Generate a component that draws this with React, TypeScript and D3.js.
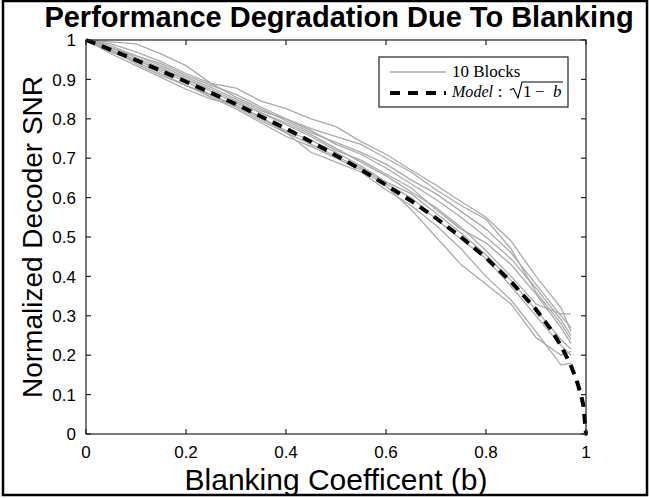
import React from "react";
import * as d3 from "d3";

const W = 650;
const H = 498;

// Block sample positions (blanking coefficient)
const blockB = [0, 0.05, 0.1, 0.15, 0.2, 0.25, 0.3, 0.35, 0.4, 0.45, 0.5, 0.55, 0.6, 0.65, 0.7, 0.75, 0.8, 0.85, 0.9, 0.95, 0.97];

const block1 = [1, 0.995, 0.99, 0.965, 0.935, 0.89, 0.878, 0.845, 0.826, 0.8, 0.78, 0.742, 0.71, 0.67, 0.632, 0.59, 0.55, 0.49, 0.4, 0.32, 0.26];
const block2 = [1, 0.985, 0.96, 0.94, 0.91, 0.885, 0.862, 0.83, 0.8, 0.775, 0.755, 0.735, 0.7, 0.665, 0.62, 0.58, 0.545, 0.47, 0.36, 0.28, 0.24];
const block3 = [1, 0.965, 0.935, 0.905, 0.875, 0.85, 0.835, 0.805, 0.765, 0.715, 0.69, 0.665, 0.62, 0.58, 0.53, 0.47, 0.4, 0.34, 0.26, 0.175, 0.18];
const block4 = [1, 0.97, 0.945, 0.915, 0.885, 0.855, 0.825, 0.79, 0.755, 0.73, 0.7, 0.67, 0.63, 0.57, 0.5, 0.43, 0.38, 0.33, 0.245, 0.2, 0.21];
const block5 = [1, 0.98, 0.955, 0.93, 0.9, 0.875, 0.845, 0.815, 0.79, 0.76, 0.725, 0.69, 0.655, 0.615, 0.575, 0.525, 0.465, 0.4, 0.33, 0.305, 0.305];
const block6 = [1, 0.975, 0.95, 0.925, 0.9, 0.87, 0.84, 0.815, 0.785, 0.755, 0.72, 0.695, 0.66, 0.625, 0.57, 0.52, 0.485, 0.43, 0.355, 0.27, 0.23];
const block7 = [1, 0.98, 0.96, 0.935, 0.905, 0.88, 0.85, 0.82, 0.8, 0.77, 0.735, 0.71, 0.675, 0.635, 0.595, 0.55, 0.5, 0.445, 0.37, 0.29, 0.25];
const block8 = [1, 0.97, 0.95, 0.92, 0.895, 0.86, 0.835, 0.8, 0.77, 0.745, 0.715, 0.68, 0.64, 0.61, 0.56, 0.51, 0.455, 0.39, 0.315, 0.24, 0.215];
const block9 = [1, 0.99, 0.97, 0.945, 0.915, 0.89, 0.855, 0.825, 0.795, 0.765, 0.74, 0.715, 0.685, 0.645, 0.61, 0.565, 0.52, 0.46, 0.38, 0.3, 0.27];
const block10 = [1, 0.975, 0.94, 0.91, 0.885, 0.86, 0.83, 0.795, 0.765, 0.735, 0.705, 0.675, 0.635, 0.6, 0.545, 0.495, 0.445, 0.375, 0.3, 0.225, 0.2];

const blocks = [block1, block2, block3, block4, block5, block6, block7, block8, block9, block10];

// Model curve points
const modelB = [0, 0.05, 0.1, 0.15, 0.2, 0.25, 0.3, 0.35, 0.4, 0.45, 0.5, 0.55, 0.6, 0.65, 0.7, 0.75, 0.8, 0.85, 0.9, 0.93, 0.95, 0.97, 0.98, 0.99, 0.995, 1];
const modelV = [1, 0.975, 0.949, 0.922, 0.894, 0.866, 0.837, 0.806, 0.775, 0.742, 0.707, 0.671, 0.632, 0.592, 0.548, 0.5, 0.447, 0.387, 0.316, 0.265, 0.224, 0.173, 0.141, 0.1, 0.071, 0];

const xTicks = [0, 0.2, 0.4, 0.6, 0.8, 1];
const yTicks = [0, 0.1, 0.2, 0.3, 0.4, 0.5, 0.6, 0.7, 0.8, 0.9, 1];

const title = "Performance Degradation Due To Blanking";
const xLabel = "Blanking Coefficent (b)";
const yLabel = "Normalized Decoder SNR";
const legendBlocks = "10 Blocks";

const SANS = "'Liberation Sans', Arial, Helvetica, sans-serif";
const SERIF = "'Liberation Serif', 'Times New Roman', serif";

export default function App() {
  const left = 86, right = 586, top = 40, bottom = 434;
  const x = d3.scaleLinear().domain([0, 1]).range([left, right]);
  const y = d3.scaleLinear().domain([0, 1]).range([bottom, top]);
  const line = d3.line<[number, number]>().x((d) => x(d[0])).y((d) => y(d[1]));
  const tick = 5;

  const modelPts: [number, number][] = modelB.map((b, i) => [b, modelV[i]]);

  const lx0 = 390, lx1 = 446, ltx = 452;
  const mb = 97; // baseline of model legend text

  return (
    <svg width={W} height={H} style={{ position: "absolute", left: 0, top: 0, background: "#fff" }}>
      <rect x={0} y={0} width={W} height={H} fill="#fff" />
      {/* outer frame */}
      <rect x={3} y={1} width={644} height={494} fill="none" stroke="#000" strokeWidth={2.5} />

      <text x={339} y={27} textAnchor="middle" fontFamily={SANS} fontWeight="bold" fontSize={29} fill="#000">
        {title}
      </text>

      {/* gray block lines */}
      <g>
        {blocks.map((s, k) => (
          <path
            key={k}
            d={line(blockB.map((b, i) => [b, s[i]] as [number, number])) || ""}
            fill="none"
            stroke="#aaaaaa"
            strokeWidth={1.3}
          />
        ))}
      </g>

      {/* model */}
      <path d={line(modelPts) || ""} fill="none" stroke="#000" strokeWidth={4} strokeDasharray="10,7" />
      <circle cx={x(1)} cy={y(0)} r={1.8} fill="#000" />

      {/* axes box */}
      <rect x={left} y={top} width={right - left} height={bottom - top} fill="none" stroke="#222" strokeWidth={1.2} />
      {xTicks.map((t) => (
        <g key={"xt" + t}>
          <line x1={x(t)} x2={x(t)} y1={bottom} y2={bottom - tick} stroke="#222" strokeWidth={1.2} />
          <line x1={x(t)} x2={x(t)} y1={top} y2={top + tick} stroke="#222" strokeWidth={1.2} />
          <text x={x(t)} y={458} textAnchor="middle" fontFamily={SANS} fontSize={17} fill="#000">
            {d3.format("")(t)}
          </text>
        </g>
      ))}
      {yTicks.map((t) => (
        <g key={"yt" + t}>
          <line x1={left} x2={left + tick} y1={y(t)} y2={y(t)} stroke="#222" strokeWidth={1.2} />
          <line x1={right} x2={right - tick} y1={y(t)} y2={y(t)} stroke="#222" strokeWidth={1.2} />
          <text x={76} y={y(t)} dy="0.36em" textAnchor="end" fontFamily={SANS} fontSize={17} fill="#000">
            {d3.format("")(t)}
          </text>
        </g>
      ))}

      {/* axis labels */}
      <text x={x(0.5)} y={490} textAnchor="middle" fontFamily={SANS} fontSize={30} fill="#000">
        {xLabel}
      </text>
      <text
        transform={`translate(42,${(top + bottom) / 2}) rotate(-90)`}
        textAnchor="middle"
        fontFamily={SANS}
        fontSize={28}
        fill="#000"
      >
        {yLabel}
      </text>

      {/* legend */}
      <rect x={379} y={57} width={189} height={50} fill="#fff" stroke="#222" strokeWidth={1.2} />
      <line x1={lx0} x2={lx1} y1={72} y2={72} stroke="#aaaaaa" strokeWidth={1.3} />
      <text x={ltx} y={77} fontFamily={SERIF} fontSize={17} fill="#000">
        {legendBlocks}
      </text>
      <line x1={lx0} x2={lx1} y1={93} y2={93} stroke="#000" strokeWidth={4} strokeDasharray="10,8" />
      <text x={ltx} y={mb} fontFamily={SERIF} fontSize={17} fontStyle="italic" fill="#000" textLength={41} lengthAdjust="spacingAndGlyphs">
        Model
      </text>
      <text x={500} y={mb} fontFamily={SERIF} fontSize={17} textAnchor="middle" fill="#000">:</text>
      <path d={`M510,90 L513.5,88.5 L518,98 L522,82 L563,82`} fill="none" stroke="#000" strokeWidth={1.1} />
      <text x={523} y={mb} fontFamily={SERIF} fontSize={17} fill="#000">1</text>
      <text x={539.5} y={mb} fontFamily={SERIF} fontSize={17} textAnchor="middle" fill="#000">−</text>
      <text x={553} y={mb} fontFamily={SERIF} fontSize={17} fontStyle="italic" fill="#000">b</text>
    </svg>
  );
}
